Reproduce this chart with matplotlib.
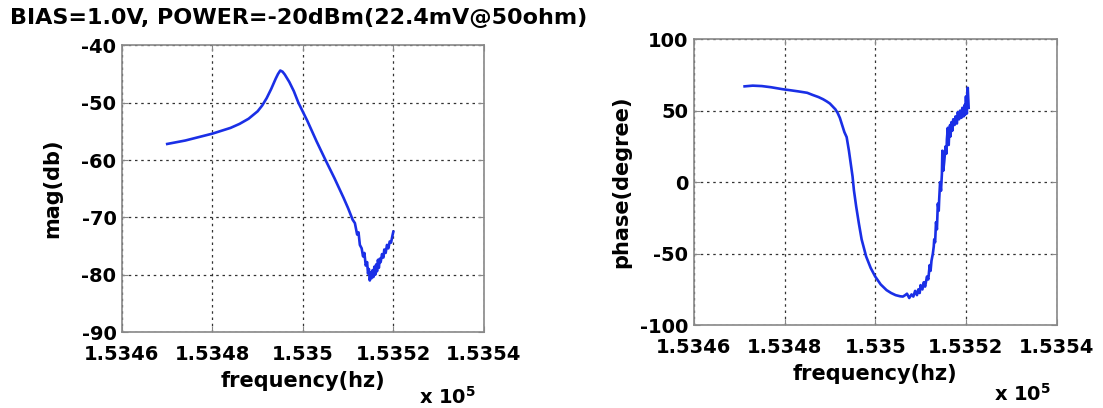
import matplotlib.pyplot as plt

# frequency in units of 1e5 Hz
f_mag = [1.53470, 1.53472, 1.53474, 1.53476, 1.53478, 1.53480, 1.53482, 1.53484,
         1.53486, 1.53488, 1.53490, 1.53491, 1.53492, 1.53493, 1.53494, 1.534945,
         1.53495, 1.534955, 1.53496, 1.53497, 1.53498, 1.53499, 1.53500, 1.53501,
         1.53503, 1.53505, 1.53507, 1.53509, 1.53510, 1.53511, 1.535115, 1.53512,
         1.535123, 1.535126, 1.53513, 1.535133, 1.535136, 1.535139, 1.535142,
         1.535144, 1.535146, 1.535148, 1.53515, 1.535152, 1.535154, 1.535156,
         1.535158, 1.53516, 1.535162, 1.535164, 1.535166, 1.535168, 1.53517,
         1.535172, 1.535175, 1.535178, 1.53518, 1.535183, 1.535186, 1.535189,
         1.535192, 1.535195, 1.535198, 1.5352]
mag_db = [-57.2, -56.9, -56.6, -56.2, -55.8, -55.4, -54.9, -54.4,
          -53.7, -52.8, -51.5, -50.5, -49.2, -47.6, -45.8, -45.0,
          -44.4, -44.6, -45.1, -46.4, -48.0, -50.0, -51.6, -53.2,
          -56.7, -60.0, -63.2, -66.6, -68.4, -70.4, -71.0, -73.0,
          -72.6, -74.8, -75.4, -76.8, -76.2, -78.4, -77.8,
          -79.8, -79.0, -81.0, -79.6, -80.6, -79.2, -80.4,
          -78.6, -80.0, -78.2, -79.4, -77.4, -78.8, -77.2,
          -77.8, -76.4, -77.0, -75.6, -76.2, -74.8, -75.4,
          -74.2, -74.4, -73.2, -72.5]

f_phase = [1.534712, 1.53473, 1.53475, 1.53477, 1.534796, 1.53481, 1.53483,
           1.53485, 1.534862, 1.534875, 1.534885, 1.534893, 1.5349, 1.534906,
           1.534912, 1.534917, 1.534922, 1.534928, 1.534932, 1.534937, 1.534942,
           1.534946, 1.53495, 1.534953, 1.534958, 1.534964, 1.53497, 1.534975,
           1.53498, 1.53499, 1.535, 1.535012, 1.535025, 1.535035, 1.535045,
           1.535055, 1.535061, 1.535066, 1.53507, 1.535075, 1.53508, 1.535084,
           1.535088, 1.535092, 1.535095, 1.535098, 1.5351, 1.535104, 1.535107,
           1.53511, 1.535114, 1.535117, 1.53512, 1.535122, 1.535124, 1.535127,
           1.535129, 1.53513, 1.535132, 1.535134, 1.535136, 1.535138, 1.53514,
           1.535141, 1.535143, 1.535145, 1.535147, 1.535148, 1.53515, 1.535152,
           1.535155, 1.535157, 1.535158, 1.53516, 1.535162, 1.535163, 1.535165,
           1.535166, 1.535168, 1.53517, 1.535172, 1.535175, 1.535177, 1.53518,
           1.535182, 1.535185, 1.535187, 1.53519, 1.535192, 1.535195, 1.535197,
           1.535198, 1.5352, 1.535202, 1.535203, 1.535204, 1.535206]
phase_deg = [67, 67.5, 67.2, 66.4, 65, 64.4, 63.5,
             62.5, 61, 59.5, 58, 56.5, 55, 53,
             51, 48.5, 45, 39, 35, 31.5, 22,
             13, 4, -5.6, -17, -29, -40, -46,
             -52, -60, -66, -71.5, -75.5, -77.5, -79,
             -79.8, -80, -79, -78, -81, -78.5, -80,
             -76, -79, -75, -77.5, -72, -75, -70,
             -73, -66, -68, -58, -62, -55, -50,
             -45, -40, -42, -28, -33, -15, -20,
             -12, 0, -6, 6, 22, 8, 14,
             25, 20, 30, 38, 26, 34, 40,
             32, 42, 36, 44, 40, 46, 41,
             49, 44, 50, 45, 52, 46, 54,
             47, 60, 48, 62, 66, 52]

freq_ticks = [1.5346, 1.5348, 1.535, 1.5352, 1.5354]
freq_labels = ['1.5346', '1.5348', '1.535', '1.5352', '1.5354']
mag_ticks = [-90, -80, -70, -60, -50, -40]
phase_ticks = [-100, -50, 0, 50, 100]

plt.rcParams['font.family'] = 'DejaVu Sans'
plt.rcParams['font.weight'] = 'bold'
plt.rcParams['axes.unicode_minus'] = False

fig = plt.figure(figsize=(11.03, 4.08), dpi=100)
ax1 = fig.add_axes([0.1106, 0.186, 0.328, 0.703])
ax2 = fig.add_axes([0.629, 0.203, 0.329, 0.701])

def style(ax, yticks, ylabel, ylabelpad, offset_pos):
    ax.set_xlim(1.5346, 1.5354)
    ax.set_xticks(freq_ticks)
    ax.set_xticklabels(freq_labels)
    ax.set_ylim(yticks[0], yticks[-1])
    ax.set_yticks(yticks)
    ax.grid(True, color='#333333', linestyle=(0, (2, 3)), linewidth=0.9)
    for s in ax.spines.values():
        s.set_color('#888888')
        s.set_linewidth(1.2)
    ax.tick_params(axis='both', direction='in', length=4, color='#888888',
                   labelsize=14, top=True, right=True)
    ax.tick_params(axis='x', pad=9)
    ax.tick_params(axis='y', pad=4)
    ax.set_xlabel('frequency(hz)', fontsize=15, fontweight='bold', labelpad=5)
    ax.set_ylabel(ylabel, fontsize=15, fontweight='bold', labelpad=ylabelpad)
    ax.text(offset_pos[0], offset_pos[1], r'x 10$^5$', transform=ax.transAxes,
            fontsize=14, fontweight='bold', ha='center', va='center')

ax1.plot(f_mag, mag_db, color='#1a2fe6', linewidth=1.9)
style(ax1, mag_ticks, 'mag(db)', 14, (0.90, -0.225))

ax2.plot(f_phase, phase_deg, color='#1a2fe6', linewidth=1.9)
style(ax2, phase_ticks, 'phase(degree)', 6, (0.905, -0.24))

fig.text(0.009, 0.955, 'BIAS=1.0V, POWER=-20dBm(22.4mV@50ohm)', fontsize=16,
         fontweight='bold', ha='left', va='center')

fig.savefig('out.png', dpi=100)
